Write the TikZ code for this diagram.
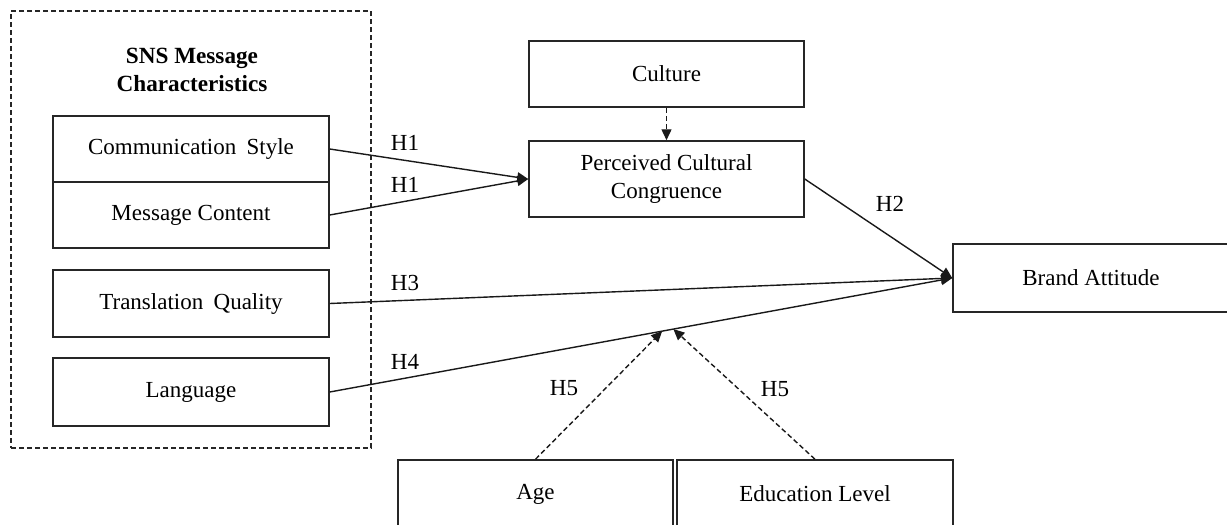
\documentclass[tikz,border=0pt]{standalone}
\usepackage{fontspec}
\setmainfont{Liberation Serif}
\usetikzlibrary{arrows.meta,calc}
\begin{document}
\begin{tikzpicture}[x=1pt,y=-1pt,
  every node/.style={font=\fontsize{23}{27.5}\selectfont, inner sep=0pt, align=center, text=black},
  box/.style={draw=black!85, line width=1.5pt},
  conn/.style={draw=black!90, line width=1.4pt},
  tip/.style={-{Triangle[length=11pt,width=10pt]}},
  dashconn/.style={conn, dash pattern=on 5pt off 3pt},
  lbl/.style={anchor=center}
]
\useasboundingbox (0,0) rectangle (1227,525);
% group frame
\node[draw=black!85, line width=1.3pt, dash pattern=on 5pt off 3pt, minimum width=360pt, minimum height=437pt] (grp) at (191,229.5) {};
\node[font=\fontsize{23.2}{27.5}\selectfont\bfseries] (title) at (192,70) {SNS Message\\Characteristics};
% left boxes
\node[box, minimum width=276pt, minimum height=66pt] (comm) at (191,149) {Communication\hspace{0.45em}Style};
\node[box, minimum width=276pt, minimum height=66pt] (msg) at (191,215) {Message Content};
\node[box, minimum width=276pt, minimum height=67pt] (trans) at (191,303.5) {Translation\hspace{0.45em}Quality};
\node[box, minimum width=276pt, minimum height=68pt] (lang) at (191,392) {Language};
% middle boxes
\node[box, minimum width=275pt, minimum height=66pt] (cult) at (666.5,74) {Culture};
\node[box, minimum width=275pt, minimum height=76pt] (pcc) at (666.5,179) {Perceived Cultural\\Congruence};
\node[box, minimum width=276pt, minimum height=68pt] (brand) at (1091,278) {Brand Attitude};
% bottom boxes
\node[box, minimum width=275pt, minimum height=68pt] (age) at (535.5,494) {Age};
\node[box, minimum width=276pt, minimum height=68pt] (edu) at (815,494) {Education Level};
% connectors
\draw[conn, tip] (comm.east) -- (pcc.west);
\draw[conn, tip] (msg.east) -- (pcc.west);
\draw[dashconn, tip] (cult.south) -- (pcc.north);
\draw[conn, tip] (pcc.east) -- (brand.west);
\draw[conn, tip] (trans.east) -- (brand.west);
\draw[conn, tip] (lang.east) -- (brand.west);
\coordinate (m1) at ($(lang.east)!0.534!(brand.west)$);
\coordinate (m2) at ($(lang.east)!0.552!(brand.west)$);
\draw[dashconn, tip] (age.north) -- (m1);
\draw[dashconn, tip] (edu.north) -- (m2);
% labels
\node[lbl] (h1a) at (405,143) {H1};
\node[lbl] (h1b) at (405,185) {H1};
\node[lbl] (h2) at (890,204) {H2};
\node[lbl] (h3) at (405,283) {H3};
\node[lbl] (h4) at (405,362) {H4};
\node[lbl] (h5a) at (564,388) {H5};
\node[lbl] (h5b) at (775,389) {H5};
\end{tikzpicture}
\end{document}
